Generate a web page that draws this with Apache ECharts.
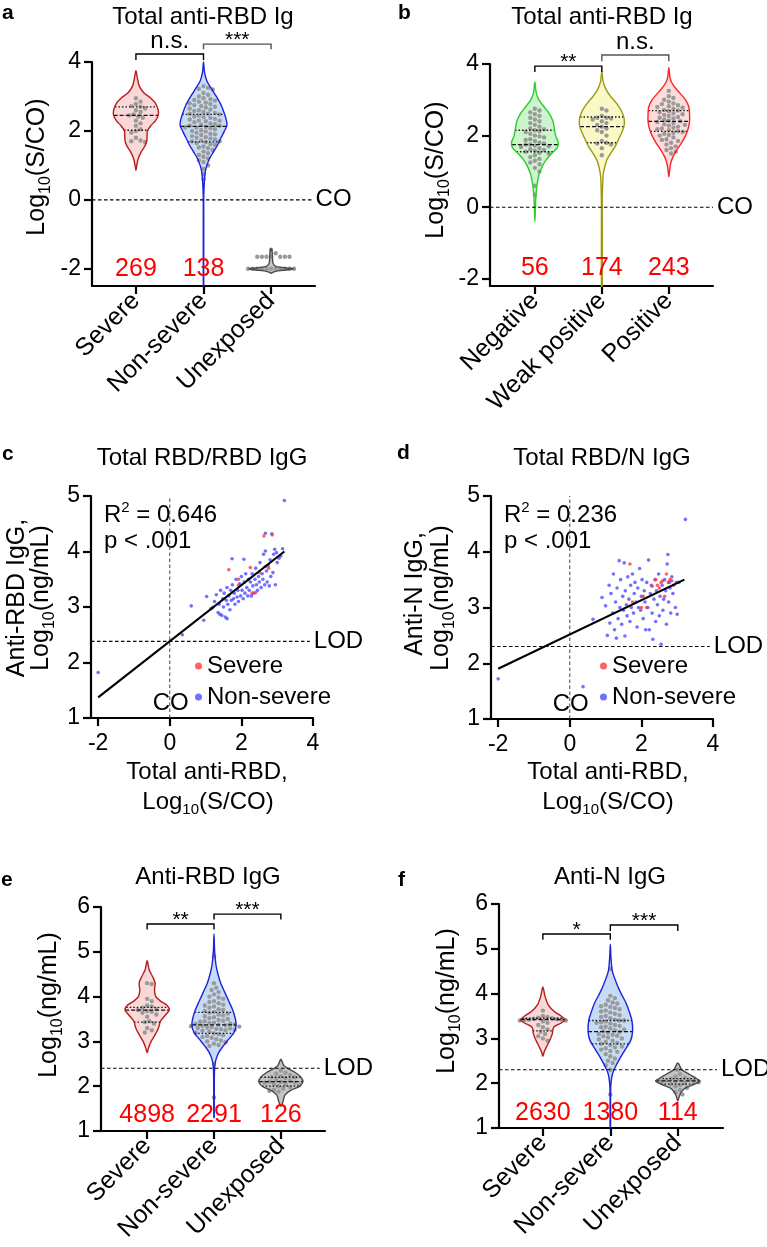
<!DOCTYPE html>
<html><head><meta charset="utf-8">
<script src="https://cdn.jsdelivr.net/npm/echarts@6/dist/echarts.min.js"></script>
<style>html,body{margin:0;padding:0;background:#fff}#c{width:767px;height:1247px}</style>
</head><body><div id="c"></div>
<script>
const FONT = 'Liberation Sans';

// ================= DATA =================
// ---- Panel a: Total anti-RBD Ig by severity ----
const catsA = ['Severe', 'Non-severe', 'Unexposed'];
const dotsA_severe = [2.95, 2.85, 2.78, 2.72, 2.7, 2.65, 2.6, 2.55, 2.48, 2.45, 2.42, 2.38, 2.3, 2.22, 2.15, 2.05, 2.0, 1.95, 1.8, 1.72, 1.7, 1.68];
const dotsA_nonsevere = [3.3, 3.25, 3.22, 3.2, 3.1, 3.05, 3.0, 2.95, 2.92, 2.9, 2.88, 2.85, 2.82, 2.8, 2.78, 2.75, 2.72, 2.7,
  2.68, 2.65, 2.62, 2.6, 2.58, 2.55, 2.52, 2.5, 2.5, 2.48, 2.45, 2.42, 2.4, 2.38, 2.35, 2.33, 2.3, 2.3,
  2.28, 2.25, 2.22, 2.2, 2.18, 2.15, 2.15, 2.12, 2.1, 2.1, 2.08, 2.05, 2.02, 2.0, 1.98, 1.95, 1.92, 1.9,
  1.88, 1.85, 1.82, 1.8, 1.78, 1.75, 1.72, 1.7, 1.7, 1.68, 1.65, 1.62, 1.6, 1.55, 1.52, 1.5,
  1.45, 1.4, 1.35, 1.3, 1.25, 1.2, 1.15, 1.1, 1.0, 0.9, 0.75, 0.6];
const dotsA_unexposed = [-1.45, -1.55, -1.65, -1.65, -1.65, -1.65, -1.65, -1.65, -1.65, -2.0, -2.0, -2.0, -2.0, -2.0, -2.0, -2.0, -2.0, -2.0, -2.0, -2.0];
const violinA_severe = [[3.75,0],[3.55,0.02],[3.3,0.05],[3.1,0.12],[2.95,0.22],[2.8,0.29],[2.6,0.33],[2.45,0.33],[2.3,0.29],[2.15,0.22],[2.0,0.17],[1.85,0.165],[1.7,0.16],[1.55,0.13],[1.4,0.08],[1.2,0.035],[1.0,0.012],[0.85,0]];
const violinA_nonsevere = [[4.0,0],[3.7,0.015],[3.45,0.05],[3.25,0.11],[3.0,0.19],[2.75,0.26],[2.5,0.31],[2.3,0.34],[2.15,0.345],[2.0,0.31],[1.8,0.26],[1.6,0.21],[1.4,0.15],[1.2,0.09],[1.0,0.05],[0.8,0.025],[0.5,0.012],[0.2,0.005],[0,0.003],[-2.5,0.003]];
const violinA_unexposed = [[-1.42,0],[-1.5,0.015],[-1.65,0.02],[-1.85,0.03],[-1.94,0.08],[-1.98,0.25],[-2.0,0.33],[-2.03,0.25],[-2.06,0.1],[-2.1,0.03],[-2.13,0]];
const quartilesA = [[2.02, 2.45, 2.7], [1.68, 2.13, 2.48], null];
const nLabelsA = ['269', '138', ''];
const nLabelYA = -2.0;
const bracketsA = [[0, 1, 4.23, 4.06, 'n.s.'], [1, 2, 4.52, 4.37, '***']];
const yTicksA = [-2, 0, 2, 4];
const cutoffA = 0;

// ---- Panel b: Total anti-RBD Ig by neutralisation class ----
const catsB = ['Negative', 'Weak positive', 'Positive'];
const dotsB_negative = [2.75, 2.7, 2.65, 2.6, 2.55, 2.5, 2.45, 2.4, 2.35, 2.3, 2.25, 2.2, 2.18, 2.15, 2.12, 2.1, 2.05, 2.0, 1.98, 1.95, 1.9, 1.88, 1.85, 1.8, 1.78, 1.75, 1.75, 1.72, 1.7, 1.68, 1.65, 1.62, 1.6, 1.58, 1.55, 1.52, 1.5, 1.45, 1.4, 1.35, 1.3, 1.25, 1.2, 1.1, 1.0, 0.6, 0.35];
const dotsB_weak = [2.75, 2.7, 2.55, 2.5, 2.5, 2.48, 2.45, 2.4, 2.35, 2.3, 2.25, 2.2, 2.15, 2.1, 2.0, 1.85, 1.8, 1.78, 1.75, 1.65, 1.45];
const dotsB_positive = [3.25, 3.1, 3.05, 3.0, 2.95, 2.9, 2.88, 2.85, 2.82, 2.8, 2.78, 2.75, 2.72, 2.7, 2.68, 2.65, 2.62, 2.6, 2.58, 2.55, 2.52, 2.5, 2.48, 2.45, 2.42, 2.4, 2.38, 2.35, 2.32, 2.3, 2.28, 2.25, 2.22, 2.2, 2.18, 2.15, 2.12, 2.1, 2.08, 2.05, 2.02, 2.0, 1.95, 1.9, 1.88, 1.85, 1.8, 1.75, 1.7, 1.65, 1.6, 1.55, 1.5];
const violinB_negative = [[3.5,0],[3.2,0.02],[3.0,0.06],[2.8,0.14],[2.6,0.22],[2.4,0.27],[2.2,0.29],[2.0,0.31],[1.8,0.35],[1.65,0.33],[1.5,0.25],[1.3,0.16],[1.1,0.1],[0.9,0.06],[0.6,0.03],[0.3,0.015],[0,0.008],[-0.4,0]];
const violinB_weak = [[3.8,0],[3.5,0.02],[3.3,0.06],[3.1,0.13],[2.9,0.22],[2.7,0.29],[2.5,0.33],[2.3,0.335],[2.1,0.3],[1.9,0.25],[1.7,0.2],[1.5,0.13],[1.3,0.07],[1.1,0.04],[0.9,0.02],[0.5,0.01],[0,0.006],[-2.2,0.006]];
const violinB_positive = [[3.9,0],[3.6,0.02],[3.4,0.07],[3.2,0.16],[3.0,0.25],[2.8,0.3],[2.6,0.31],[2.4,0.31],[2.2,0.29],[2.0,0.25],[1.8,0.19],[1.6,0.12],[1.4,0.06],[1.2,0.025],[1.0,0.01],[0.85,0]];
const quartilesB = [[1.55, 1.75, 2.15], [1.8, 2.25, 2.52], [2.12, 2.4, 2.7]];
const nLabelsB = ['56', '174', '243'];
const nLabelYB = -1.7;
const bracketsB = [[0, 1, 3.94, 3.78, '**'], [1, 2, 4.25, 4.08, 'n.s.']];
const yTicksB = [-2, 0, 2, 4];
const cutoffB = 0;

// ---- Panel c: Total RBD vs RBD IgG ----
const scatterC_nonsevere = [[-2.0,1.82],[0.35,2.5],[0.6,3.02],[0.95,2.76],[1.03,3.19],[1.15,2.97],[1.2,2.99],[1.25,3.1],[1.3,3.22],[1.35,2.9],[1.38,3.05],[1.4,2.87],[1.42,3.3],[1.45,2.85],[1.48,3.15],[1.5,3.0],[1.52,3.25],[1.55,2.82],[1.58,3.12],[1.6,2.79],[1.6,3.35],[1.62,3.05],[1.65,3.2],[1.68,2.95],[1.7,3.3],[1.72,3.12],[1.74,3.87],[1.75,3.4],[1.78,3.15],[1.8,3.25],[1.82,3.05],[1.85,3.5],[1.88,3.18],[1.9,3.3],[1.92,3.1],[1.95,3.42],[1.98,3.2],[2.0,3.55],[2.02,3.3],[2.05,3.15],[2.07,3.86],[2.08,3.45],[2.1,3.25],[2.12,3.6],[2.15,3.35],[2.18,3.2],[2.2,3.5],[2.22,3.3],[2.25,3.45],[2.28,3.2],[2.3,3.6],[2.32,3.38],[2.35,3.25],[2.38,3.5],[2.4,3.7],[2.42,3.4],[2.45,3.3],[2.48,3.55],[2.5,3.45],[2.52,3.8],[2.55,3.35],[2.58,3.6],[2.6,3.5],[2.62,3.95],[2.65,3.4],[2.67,4.01],[2.67,4.33],[2.7,3.65],[2.72,3.45],[2.75,3.75],[2.78,3.38],[2.8,3.85],[2.82,3.55],[2.85,4.32],[2.88,3.62],[2.9,3.95],[2.93,4.04],[2.95,3.4],[2.98,3.98],[3.0,3.8],[3.05,3.88],[3.1,3.92],[3.15,4.05],[3.2,4.92]];
const scatterC_severe = [[1.65,3.67],[1.92,3.5],[1.92,3.39],[2.25,3.71],[2.3,3.25],[2.4,3.26],[2.5,3.62],[2.63,4.28],[2.67,3.73],[2.76,3.7],[2.86,4.3]];
const regressionC = [[-2, 1.37], [3.2, 4.0]];
const statsC = ['0.646', '.001'];
const lodC = 2.38;

// ---- Panel d: Total RBD vs N IgG ----
const scatterD_nonsevere = [[-2,1.72],[0.37,1.58],[0.65,2.79],[0.9,3.18],[1.0,3.03],[1.05,2.5],[1.1,3.4],[1.12,2.72],[1.15,3.25],[1.2,2.9],[1.22,3.6],[1.25,2.6],[1.28,3.1],[1.3,2.45],[1.32,3.35],[1.35,2.8],[1.38,3.84],[1.4,3.0],[1.42,3.5],[1.45,2.7],[1.48,3.2],[1.5,2.95],[1.52,3.8],[1.54,2.49],[1.55,3.3],[1.58,3.05],[1.6,2.85],[1.62,3.55],[1.65,3.15],[1.68,2.75],[1.7,3.4],[1.72,3.0],[1.75,3.6],[1.78,2.9],[1.8,3.25],[1.82,3.45],[1.85,3.1],[1.88,2.65],[1.9,3.35],[1.92,3.0],[1.95,3.7],[1.98,2.95],[2.0,3.2],[2.02,3.5],[2.05,2.8],[2.08,3.3],[2.1,3.1],[2.12,2.6],[2.15,3.45],[2.18,3.0],[2.2,3.85],[2.22,2.6],[2.25,3.25],[2.28,3.4],[2.3,2.9],[2.32,2.43],[2.35,3.15],[2.38,3.5],[2.4,2.75],[2.42,3.3],[2.45,3.05],[2.48,3.6],[2.5,2.85],[2.52,3.2],[2.55,2.34],[2.58,3.4],[2.6,2.95],[2.62,3.15],[2.65,3.5],[2.68,3.3],[2.7,2.7],[2.72,3.78],[2.74,3.95],[2.76,3.1],[2.78,3.45],[2.8,3.35],[2.82,2.9],[2.85,3.55],[2.88,3.25],[2.9,3.4],[2.95,3.0],[2.98,3.45],[3.0,2.88],[3.05,3.45],[3.23,4.58]];
const scatterD_severe = [[1.68,3.78],[1.75,3.1],[2.0,3.0],[2.05,3.2],[2.15,3.0],[2.3,3.38],[2.4,3.5],[2.45,3.4],[2.5,3.35],[2.55,3.45],[2.6,3.48],[2.65,3.2],[2.7,3.6],[2.75,3.45],[2.8,3.5],[2.85,3.48]];
const regressionD = [[-2, 1.9], [3.2, 3.5]];
const statsD = ['0.236', '.001'];
const lodD = 2.3;
const xTicksCD = [-2, 0, 2, 4];

// ---- Panel e: Anti-RBD IgG ----
const catsE = ['Severe', 'Non-severe', 'Unexposed'];
const dotsE_severe = [4.3, 4.28, 3.95, 3.9, 3.8, 3.78, 3.75, 3.72, 3.7, 3.68, 3.66, 3.64, 3.6, 3.55, 3.45, 3.43, 3.4, 3.3, 3.25, 3.2];
const dotsE_nonsevere = [4.9, 4.3, 4.2, 4.15, 4.1, 4.05, 4.0, 3.98, 3.95, 3.9, 3.88, 3.85, 3.82, 3.8, 3.78, 3.75, 3.72, 3.7, 3.68, 3.66, 3.64, 3.62, 3.6, 3.58, 3.56, 3.54, 3.52, 3.5, 3.48, 3.46, 3.45, 3.44, 3.42, 3.41, 3.4, 3.39, 3.38, 3.37, 3.36, 3.35, 3.34, 3.33, 3.32, 3.31, 3.3, 3.29, 3.28, 3.27, 3.26, 3.25, 3.24, 3.22, 3.2, 3.18, 3.16, 3.14, 3.12, 3.1, 3.08, 3.05, 3.02, 3.0, 2.98, 2.95, 2.92, 2.9, 2.5, 1.75];
const dotsE_unexposed = [2.35, 2.3, 2.28, 2.25, 2.22, 2.2, 2.2, 2.18, 2.15, 2.12, 2.1, 2.1, 2.08, 2.08, 2.05, 2.05, 2.02, 2.0, 1.98, 1.95, 1.92, 1.9, 1.88];
const violinE_severe = [[4.8,0],[4.6,0.03],[4.45,0.08],[4.3,0.12],[4.15,0.11],[4.0,0.13],[3.9,0.2],[3.8,0.3],[3.7,0.33],[3.6,0.28],[3.45,0.2],[3.3,0.17],[3.15,0.12],[3.0,0.06],[2.85,0.02],[2.75,0]];
const violinE_nonsevere = [[5.4,0],[5.0,0.01],[4.7,0.03],[4.5,0.06],[4.3,0.1],[4.1,0.16],[3.9,0.22],[3.7,0.28],[3.5,0.32],[3.35,0.33],[3.2,0.3],[3.05,0.22],[2.9,0.14],[2.75,0.07],[2.6,0.03],[2.45,0.012],[2.2,0.005],[1.3,0.003]];
const violinE_unexposed = [[2.6,0],[2.45,0.05],[2.3,0.22],[2.2,0.3],[2.1,0.33],[2.0,0.28],[1.9,0.14],[1.8,0.06],[1.65,0.03],[1.55,0]];
const quartilesE = [[3.43, 3.7, 3.76], [3.18, 3.37, 3.65], [2.0, 2.1, 2.2]];
const nLabelsE = ['4898', '2291', '126'];
const nLabelYE = 1.36;
const bracketsE = [[0, 1, 5.62, 5.5, '**'], [1, 2, 5.84, 5.72, '***']];
const lodE = 2.4;

// ---- Panel f: Anti-N IgG ----
const catsF = ['Severe', 'Non-severe', 'Unexposed'];
const dotsF_severe = [3.62, 3.5, 3.48, 3.46, 3.45, 3.44, 3.43, 3.42, 3.42, 3.41, 3.4, 3.4, 3.38, 3.35, 3.3, 3.25, 3.2, 3.15, 3.1, 3.05, 3.0, 2.95];
const dotsF_nonsevere = [4.55, 3.95, 3.9, 3.85, 3.8, 3.78, 3.75, 3.72, 3.7, 3.68, 3.65, 3.62, 3.6, 3.58, 3.55, 3.52, 3.5, 3.48, 3.45, 3.42, 3.4, 3.4, 3.38, 3.36, 3.35, 3.33, 3.3, 3.28, 3.26, 3.25, 3.22, 3.2, 3.18, 3.16, 3.15, 3.13, 3.1, 3.08, 3.06, 3.05, 3.02, 3.0, 2.98, 2.95, 2.92, 2.9, 2.88, 2.85, 2.82, 2.8, 2.78, 2.75, 2.72, 2.7, 2.65, 2.6, 2.55, 2.5, 2.45, 2.4, 2.3, 1.75];
const dotsF_unexposed = [2.3, 2.2, 2.15, 2.12, 2.1, 2.08, 2.07, 2.06, 2.05, 2.04, 2.03, 2.02, 2.0, 1.98, 1.96, 1.93, 1.9, 1.85, 1.8, 1.75];
const violinF_severe = [[4.15,0],[3.95,0.03],[3.75,0.08],[3.6,0.17],[3.5,0.27],[3.42,0.33],[3.35,0.28],[3.25,0.16],[3.1,0.14],[2.95,0.1],[2.8,0.05],[2.7,0.02],[2.6,0]];
const violinF_nonsevere = [[5.1,0],[4.8,0.01],[4.5,0.03],[4.2,0.1],[4.0,0.16],[3.8,0.23],[3.6,0.28],[3.4,0.32],[3.15,0.33],[2.95,0.3],[2.75,0.22],[2.55,0.14],[2.35,0.07],[2.2,0.03],[2.0,0.01],[1.8,0.004],[1.0,0.003]];
const violinF_unexposed = [[2.45,0],[2.3,0.06],[2.2,0.17],[2.1,0.28],[2.05,0.33],[1.98,0.25],[1.9,0.12],[1.8,0.05],[1.7,0.02],[1.6,0]];
const quartilesF = [[3.17, 3.42, 3.45], [2.88, 3.15, 3.4], [1.98, 2.05, 2.1]];
const nLabelsF = ['2630', '1380', '114'];
const nLabelYF = 1.33;
const bracketsF = [[0, 1, 5.33, 5.2, '*'], [1, 2, 5.53, 5.4, '***']];
const lodF = 2.3;

// ================= STYLES =================
const ST_SEV = {stroke: '#b81c1c', fill: '#fbd8d8'};
const ST_NON = {stroke: '#1f22d8', fill: '#c6dcf4'};
const ST_UNE = {stroke: '#4a4a4a', fill: '#c4c4c4'};
const ST_NEG = {stroke: '#2ccd2c', fill: '#cdf5cd'};
const ST_WEAK = {stroke: '#9c9a12', fill: '#fbf8c8'};
const ST_POS = {stroke: '#ff2424', fill: '#fddcdc'};
const TICK_FS = 23, CAT_FS = 25, N_FS = 25, TXT_FS = 24;

// ================= HELPERS =================
const mctx = document.createElement('canvas').getContext('2d');
function measure(t, size, bold) { mctx.font = (bold ? 'bold ' : '') + size + 'px "' + FONT + '"'; return mctx.measureText(t).width; }
function richText(parts, size, x, y, rot, align) {
  let total = 0; const items = [];
  parts.forEach(p => { const s = (p.sub || p.sup) ? Math.round(size * 0.64) : size; const w = measure(p.t, s); items.push({p, s, w}); total += w; });
  let cx = align === 'left' ? 0 : -total / 2;
  const children = items.map(it => {
    const c = {type: 'text', x: cx, y: it.p.sub ? size * 0.33 : (it.p.sup ? -size * 0.3 : 0),
      style: {text: it.p.t, fontSize: it.s, fontFamily: FONT, fill: '#000', align: 'left', verticalAlign: 'middle'}};
    cx += it.w; return c;
  });
  return {type: 'group', x, y, rotation: rot || 0, children};
}
function hwAt(prof, y) {
  for (let k = 0; k < prof.length - 1; k++) {
    const [y0, h0] = prof[k], [y1, h1] = prof[k + 1];
    if (y <= y0 && y >= y1) { const t = (y0 - y) / ((y0 - y1) || 1); return h0 + (h1 - h0) * t; }
  }
  return 0;
}
function swarm(vals, cx, toY, d) {
  const sorted = vals.slice().sort((a, b) => b - a);
  const placed = [];
  sorted.forEach(v => {
    const y = toY(v);
    for (let k = 0; k < 80; k++) {
      const off = k === 0 ? 0 : ((k % 2) ? 1 : -1) * Math.ceil(k / 2) * d * 0.5;
      const x = cx + off;
      if (placed.every(p => (p[0] - x) * (p[0] - x) + (p[1] - y) * (p[1] - y) >= d * d * 0.96)) { placed.push([x, y]); break; }
    }
  });
  return placed;
}

// ================= PANELS =================
const violinPanels = [
  {grid: 0, cats: catsA, profiles: [violinA_severe, violinA_nonsevere, violinA_unexposed], dots: [dotsA_severe, dotsA_nonsevere, dotsA_unexposed],
   quart: quartilesA, styles: [ST_SEV, ST_NON, ST_UNE], nLabels: nLabelsA, nY: nLabelYA, brackets: bracketsA, bracketColors: ['#000', '#555'],
   ref: {y: cutoffA, x2: 2.6, label: 'CO'}},
  {grid: 1, cats: catsB, profiles: [violinB_negative, violinB_weak, violinB_positive], dots: [dotsB_negative, dotsB_weak, dotsB_positive],
   quart: quartilesB, styles: [ST_NEG, ST_WEAK, ST_POS], nLabels: nLabelsB, nY: nLabelYB, brackets: bracketsB, bracketColors: ['#000', '#555'],
   ref: {y: cutoffB, x2: 2.66, label: 'CO'}},
  {grid: 4, cats: catsE, profiles: [violinE_severe, violinE_nonsevere, violinE_unexposed], dots: [dotsE_severe, dotsE_nonsevere, dotsE_unexposed],
   quart: quartilesE, styles: [ST_SEV, ST_NON, ST_UNE], nLabels: nLabelsE, nY: nLabelYE, brackets: bracketsE, bracketColors: ['#000', '#000'],
   ref: {y: lodE, x2: 2.58, label: 'LOD'}},
  {grid: 5, cats: catsF, profiles: [violinF_severe, violinF_nonsevere, violinF_unexposed], dots: [dotsF_severe, dotsF_nonsevere, dotsF_unexposed],
   quart: quartilesF, styles: [ST_SEV, ST_NON, ST_UNE], nLabels: nLabelsF, nY: nLabelYF, brackets: bracketsF, bracketColors: ['#000', '#000'],
   ref: {y: lodF, x2: 2.58, label: 'LOD'}}
];

const grids = [
  {left: 92, top: 62, width: 223, height: 224},
  {left: 490, top: 64, width: 223, height: 222},
  {left: 91, top: 496, width: 222, height: 222},
  {left: 491, top: 496, width: 222, height: 223},
  {left: 101, top: 907, width: 224, height: 224},
  {left: 499, top: 904, width: 224, height: 224}
];
const xRanges = [[-0.65, 2.65], [-0.67, 2.66], [-2.2, 4], [-2.2, 4], [-0.69, 2.66], [-0.65, 2.67]];
const yRanges = [[-2.5, 4], [-2.2, 4], [1, 5], [1, 5], [1, 6], [1, 6]];

const AX_LINE = {show: true, onZero: false, lineStyle: {color: '#000', width: 2.2}};
const AX_TICK = {show: true, length: 8, lineStyle: {color: '#000', width: 2.2}};

const xAxes = [], yAxes = [];
for (let g = 0; g < 6; g++) {
  const vp = violinPanels.find(p => p.grid === g);
  const x = {type: 'value', gridIndex: g, min: xRanges[g][0], max: xRanges[g][1], splitLine: {show: false},
    axisLine: AX_LINE, axisTick: Object.assign({}, AX_TICK)};
  if (vp) {
    x.axisTick.customValues = [0, 1, 2];
    x.axisLabel = {customValues: [0, 1, 2], rotate: 45, margin: 11, fontSize: CAT_FS, color: '#000', fontFamily: FONT,
      formatter: v => vp.cats[Math.round(v)]};
  } else {
    x.axisTick.customValues = xTicksCD;
    x.axisLabel = {customValues: xTicksCD, margin: 14, fontSize: TICK_FS, color: '#000', fontFamily: FONT};
  }
  xAxes.push(x);
  const y = {type: 'value', gridIndex: g, min: yRanges[g][0], max: yRanges[g][1], splitLine: {show: false},
    axisLine: AX_LINE, axisTick: Object.assign({}, AX_TICK), axisLabel: {margin: 11, fontSize: TICK_FS, color: '#000', fontFamily: FONT}};
  if (g === 0) { y.axisTick.customValues = yTicksA; y.axisLabel.customValues = yTicksA; }
  else if (g === 1) { y.axisTick.customValues = yTicksB; y.axisLabel.customValues = yTicksB; }
  else { y.interval = 1; }
  yAxes.push(y);
}

const series = [];

violinPanels.forEach(P => {
  // violins
  series.push({
    type: 'custom', xAxisIndex: P.grid, yAxisIndex: P.grid, clip: false, z: 2, silent: true,
    data: P.profiles.map((pr, i) => [i, P.quart[i] ? P.quart[i][1] : pr[0][0]]),
    renderItem: function (params, api) {
      const i = api.value(0);
      const prof = P.profiles[i], st = P.styles[i];
      const right = [], left = [];
      prof.forEach(([y, hw]) => {
        right.push(api.coord([i + hw, y]));
        if (hw > 0) left.push(api.coord([i - hw, y]));
      });
      const pts = right.concat(left.reverse());
      const ch = [];
      ch.push({type: 'polygon', shape: {points: pts, smooth: 0.3}, style: {fill: st.fill, stroke: null}});
      const cx = api.coord([i, 0])[0];
      const dd = swarm(P.dots[i], cx, v => api.coord([i, v])[1], 4.6);
      dd.forEach(p => ch.push({type: 'circle', shape: {cx: p[0], cy: p[1], r: 2.2}, style: {fill: '#9a9a9a'}}));
      if (P.quart[i]) {
        P.quart[i].forEach((q, k) => {
          const hw = hwAt(prof, q);
          const a = api.coord([i - hw, q]), b = api.coord([i + hw, q]);
          ch.push({type: 'line', shape: {x1: a[0], y1: a[1], x2: b[0], y2: b[1]},
            style: {stroke: '#111', lineWidth: 1.3, lineDash: k === 1 ? [4, 2] : [1.5, 2]}});
        });
      }
      ch.push({type: 'polygon', shape: {points: pts, smooth: 0.3}, style: {fill: null, stroke: st.stroke, lineWidth: 1.4}});
      return {type: 'group', children: ch};
    }
  });
  // brackets
  series.push({
    type: 'custom', xAxisIndex: P.grid, yAxisIndex: P.grid, clip: false, z: 3, silent: true,
    data: P.brackets.map(b => [b[0], b[2]]),
    renderItem: function (params, api) {
      const b = P.brackets[params.dataIndex];
      const col = P.bracketColors[params.dataIndex];
      const p1 = api.coord([b[0], b[3]]), p2 = api.coord([b[0], b[2]]), p3 = api.coord([b[1], b[2]]), p4 = api.coord([b[1], b[3]]);
      const isStar = b[4].indexOf('*') >= 0;
      return {type: 'group', children: [
        {type: 'polyline', shape: {points: [p1, p2, p3, p4]}, style: {stroke: col, lineWidth: 1.4, fill: null}},
        {type: 'text', x: (p2[0] + p3[0]) / 2, y: isStar ? p2[1] - 4 : p2[1] - 1,
          style: {text: b[4], fontSize: isStar ? 21 : 24, fontFamily: FONT, fill: '#000', align: 'center', verticalAlign: isStar ? 'middle' : 'bottom'}}
      ]};
    }
  });
  // n labels
  series.push({
    type: 'custom', xAxisIndex: P.grid, yAxisIndex: P.grid, clip: false, z: 4, silent: true,
    data: P.nLabels.map((t, i) => [i, P.nY]),
    renderItem: function (params, api) {
      const p = api.coord([api.value(0), api.value(1)]);
      return {type: 'text', x: p[0], y: p[1], style: {text: P.nLabels[params.dataIndex], fontSize: N_FS, fontFamily: FONT, fill: '#ff0000', align: 'center', verticalAlign: 'middle'}};
    }
  });
  // reference dashed line (CO / LOD)
  series.push({
    type: 'custom', xAxisIndex: P.grid, yAxisIndex: P.grid, clip: false, z: 5, silent: true,
    data: [[xRanges[P.grid][0], P.ref.y]],
    renderItem: function (params, api) {
      const a = api.coord([xRanges[P.grid][0], P.ref.y]), b = api.coord([P.ref.x2, P.ref.y]);
      return {type: 'group', children: [
        {type: 'line', shape: {x1: a[0], y1: a[1], x2: b[0], y2: b[1]}, style: {stroke: '#000', lineWidth: 1.1, lineDash: [3.5, 2.5]}},
        {type: 'text', x: b[0] + 4, y: a[1], style: {text: P.ref.label, fontSize: TXT_FS, fontFamily: FONT, fill: '#000', align: 'left', verticalAlign: 'middle'}}
      ]};
    }
  });
});

const scatterPanels = [
  {grid: 2, non: scatterC_nonsevere, sev: scatterC_severe, reg: regressionC, lod: lodC},
  {grid: 3, non: scatterD_nonsevere, sev: scatterD_severe, reg: regressionD, lod: lodD}
];
scatterPanels.forEach(S => {
  series.push({type: 'custom', xAxisIndex: S.grid, yAxisIndex: S.grid, clip: false, z: 1, silent: true,
    data: [[0, S.lod]],
    renderItem: function (params, api) {
      const a = api.coord([-2.2, S.lod]), b = api.coord([3.91, S.lod]);
      const v1 = api.coord([0, 1]), v2 = api.coord([0, 5]);
      return {type: 'group', children: [
        {type: 'line', shape: {x1: a[0], y1: a[1], x2: b[0], y2: b[1]}, style: {stroke: '#000', lineWidth: 1.1, lineDash: [3.5, 2.5]}},
        {type: 'line', shape: {x1: v1[0], y1: v1[1], x2: v2[0], y2: v2[1]}, style: {stroke: '#444', lineWidth: 1, lineDash: [3.5, 2.5]}},
        {type: 'text', x: b[0] + 4, y: a[1], style: {text: 'LOD', fontSize: TXT_FS, fontFamily: FONT, fill: '#000', align: 'left', verticalAlign: 'middle'}},
        {type: 'text', x: v1[0] + 1, y: v1[1] - 15, style: {text: 'CO', fontSize: TXT_FS, fontFamily: FONT, fill: '#000', align: 'center', verticalAlign: 'middle'}}
      ]};
    }
  });
  series.push({type: 'scatter', name: 'Non-severe', xAxisIndex: S.grid, yAxisIndex: S.grid, data: S.non, symbolSize: 3.6,
    itemStyle: {color: '#4d4dff'}, z: 2, silent: true});
  series.push({type: 'scatter', name: 'Severe', xAxisIndex: S.grid, yAxisIndex: S.grid, data: S.sev, symbolSize: 3.6,
    itemStyle: {color: '#ff3838'}, z: 3, silent: true});
  series.push({type: 'line', xAxisIndex: S.grid, yAxisIndex: S.grid, data: S.reg, symbol: 'none', z: 4, silent: true,
    lineStyle: {color: '#000', width: 2.2}});
});

// ================= TEXT (titles, axis names, annotations) =================
const graphic = [];
[['a', 2, 13], ['b', 398, 13], ['c', 2, 454], ['d', 397, 453], ['e', 1, 880], ['f', 398, 880]].forEach(l => {
  graphic.push({type: 'text', x: l[1], y: l[2], style: {text: l[0], fontSize: 21, fontWeight: 'bold', fontFamily: FONT, fill: '#000', verticalAlign: 'middle'}});
});
[['Total anti-RBD Ig', 203, 17], ['Total anti-RBD Ig', 602, 17], ['Total RBD/RBD IgG', 202, 458], ['Total RBD/N IgG', 602, 458], ['Anti-RBD IgG', 208, 877], ['Anti-N IgG', 610, 877]].forEach(t => {
  graphic.push({type: 'text', x: t[1], y: t[2], style: {text: t[0], fontSize: TXT_FS, fontFamily: FONT, fill: '#000', align: 'center', verticalAlign: 'middle'}});
});
const ROT = Math.PI / 2;
const logSCO = [{t: 'Log'}, {t: '10', sub: true}, {t: '(S/CO)'}];
const logNg = [{t: 'Log'}, {t: '10', sub: true}, {t: '(ng/mL)'}];
graphic.push(richText(logSCO, 25, 37, 167, ROT));
graphic.push(richText(logSCO, 25, 436, 170, ROT));
graphic.push(richText([{t: 'Anti-RBD IgG,'}], 25, 17, 598, ROT));
graphic.push(richText(logNg, 25, 41, 598, ROT));
graphic.push(richText([{t: 'Anti-N IgG,'}], 25, 415, 594, ROT));
graphic.push(richText(logNg, 25, 441, 598, ROT));
graphic.push(richText(logNg, 25, 49, 1005, ROT));
graphic.push(richText(logNg, 25, 447, 1001, ROT));
// x names of scatter panels
graphic.push(richText([{t: 'Total anti-RBD,'}], TXT_FS, 207, 772, 0));
graphic.push(richText(logSCO, TXT_FS, 208, 802, 0));
graphic.push(richText([{t: 'Total anti-RBD,'}], TXT_FS, 608, 772, 0));
graphic.push(richText(logSCO, TXT_FS, 608, 802, 0));
// stats
graphic.push(richText([{t: 'R'}, {t: '2', sup: true}, {t: ' = ' + statsC[0]}], TXT_FS, 104, 515, 0, 'left'));
graphic.push(richText([{t: 'p < ' + statsC[1]}], TXT_FS, 104, 541, 0, 'left'));
graphic.push(richText([{t: 'R'}, {t: '2', sup: true}, {t: ' = ' + statsD[0]}], TXT_FS, 504, 515, 0, 'left'));
graphic.push(richText([{t: 'p < ' + statsD[1]}], TXT_FS, 504, 541, 0, 'left'));

const legendBase = {orient: 'vertical', padding: 0, itemWidth: 7, itemHeight: 7, itemGap: 7, icon: 'circle', selectedMode: false,
  textStyle: {fontSize: TXT_FS, fontFamily: FONT, color: '#000', lineHeight: 24}, data: ['Severe', 'Non-severe']};

const option = {
  animation: false,
  backgroundColor: '#fff',
  textStyle: {fontFamily: FONT},
  grid: grids,
  xAxis: xAxes,
  yAxis: yAxes,
  legend: [Object.assign({left: 195, top: 654}, legendBase), Object.assign({left: 600, top: 654}, legendBase)],
  series: series,
  graphic: graphic
};
const chart = echarts.init(document.getElementById('c'), null, {renderer: 'canvas', width: 767, height: 1247});
chart.setOption(option);
</script></body></html>
